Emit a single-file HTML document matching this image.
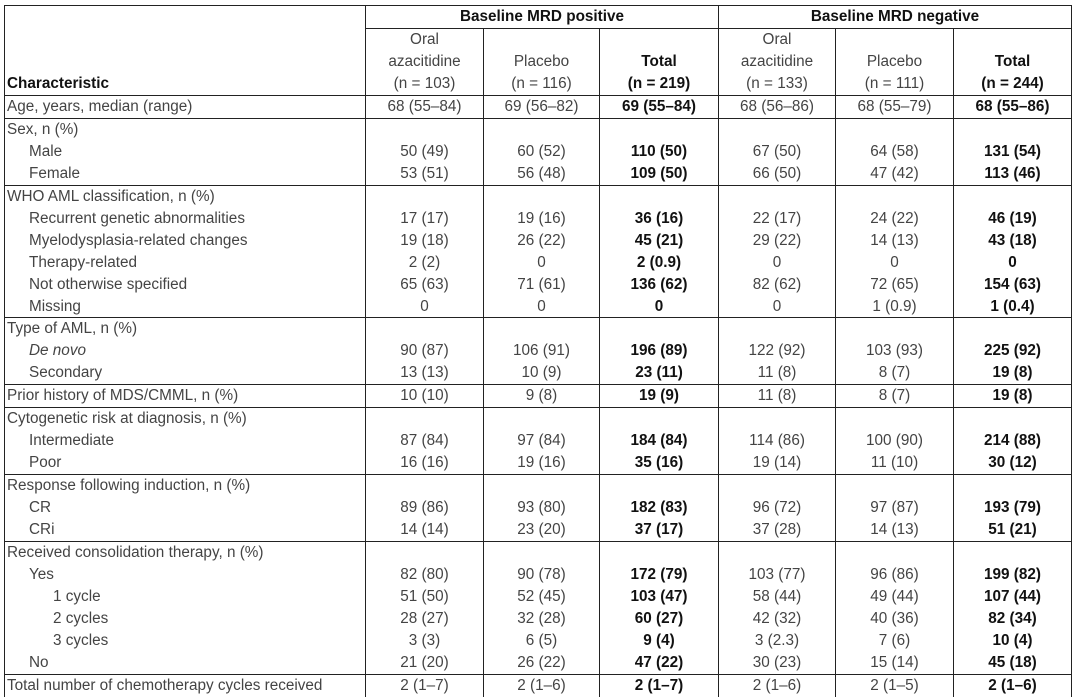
<!DOCTYPE html>
<html><head><meta charset="utf-8"><style>
body{margin:0;background:#fff;width:1080px;height:698px;overflow:hidden;font-family:"Liberation Sans",Arial,sans-serif;font-size:15.3px;color:#444}
table{position:absolute;left:4px;top:5px;border-collapse:collapse;table-layout:fixed}
td{border:1px solid #222;padding:0;vertical-align:bottom;text-align:center;line-height:21.95px;white-space:nowrap;overflow:hidden}
td.l{text-align:left;padding-left:2px}
b{color:#111}
.i1{padding-left:22px}.i2{padding-left:46px}
tr.last td{border-bottom:none}
</style></head><body>
<table>
<colgroup><col style="width:361px"><col style="width:118px"><col style="width:116px"><col style="width:119px"><col style="width:117px"><col style="width:118px"><col style="width:118px"></colgroup>
<tr style="height:21px"><td class="l" rowspan="2" style="vertical-align:bottom"><b>Characteristic</b></td><td colspan="3"><b>Baseline MRD positive</b></td><td colspan="3"><b>Baseline MRD negative</b></td></tr>
<tr style="height:67px"><td>Oral<br>azacitidine<br>(n = 103)</td><td>Placebo<br>(n = 116)</td><td><b>Total<br>(n = 219)</b></td><td>Oral<br>azacitidine<br>(n = 133)</td><td>Placebo<br>(n = 111)</td><td><b>Total<br>(n = 244)</b></td></tr>
<tr><td class="l">Age, years, median (range)</td><td>68 (55–84)</td><td>69 (56–82)</td><td><b>69 (55–84)</b></td><td>68 (56–86)</td><td>68 (55–79)</td><td><b>68 (55–86)</b></td></tr>
<tr><td class="l">Sex, n (%)<div class="i1">Male</div><div class="i1">Female</div></td><td>50 (49)<br>53 (51)</td><td>60 (52)<br>56 (48)</td><td><b>110 (50)<br>109 (50)</b></td><td>67 (50)<br>66 (50)</td><td>64 (58)<br>47 (42)</td><td><b>131 (54)<br>113 (46)</b></td></tr>
<tr><td class="l">WHO AML classification, n (%)<div class="i1">Recurrent genetic abnormalities</div><div class="i1">Myelodysplasia-related changes</div><div class="i1">Therapy-related</div><div class="i1">Not otherwise specified</div><div class="i1">Missing</div></td><td>17 (17)<br>19 (18)<br>2 (2)<br>65 (63)<br>0</td><td>19 (16)<br>26 (22)<br>0<br>71 (61)<br>0</td><td><b>36 (16)<br>45 (21)<br>2 (0.9)<br>136 (62)<br>0</b></td><td>22 (17)<br>29 (22)<br>0<br>82 (62)<br>0</td><td>24 (22)<br>14 (13)<br>0<br>72 (65)<br>1 (0.9)</td><td><b>46 (19)<br>43 (18)<br>0<br>154 (63)<br>1 (0.4)</b></td></tr>
<tr><td class="l">Type of AML, n (%)<div class="i1"><i>De novo</i></div><div class="i1">Secondary</div></td><td>90 (87)<br>13 (13)</td><td>106 (91)<br>10 (9)</td><td><b>196 (89)<br>23 (11)</b></td><td>122 (92)<br>11 (8)</td><td>103 (93)<br>8 (7)</td><td><b>225 (92)<br>19 (8)</b></td></tr>
<tr><td class="l">Prior history of MDS/CMML, n (%)</td><td>10 (10)</td><td>9 (8)</td><td><b>19 (9)</b></td><td>11 (8)</td><td>8 (7)</td><td><b>19 (8)</b></td></tr>
<tr><td class="l">Cytogenetic risk at diagnosis, n (%)<div class="i1">Intermediate</div><div class="i1">Poor</div></td><td>87 (84)<br>16 (16)</td><td>97 (84)<br>19 (16)</td><td><b>184 (84)<br>35 (16)</b></td><td>114 (86)<br>19 (14)</td><td>100 (90)<br>11 (10)</td><td><b>214 (88)<br>30 (12)</b></td></tr>
<tr><td class="l">Response following induction, n (%)<div class="i1">CR</div><div class="i1">CRi</div></td><td>89 (86)<br>14 (14)</td><td>93 (80)<br>23 (20)</td><td><b>182 (83)<br>37 (17)</b></td><td>96 (72)<br>37 (28)</td><td>97 (87)<br>14 (13)</td><td><b>193 (79)<br>51 (21)</b></td></tr>
<tr><td class="l">Received consolidation therapy, n (%)<div class="i1">Yes</div><div class="i2">1 cycle</div><div class="i2">2 cycles</div><div class="i2">3 cycles</div><div class="i1">No</div></td><td>82 (80)<br>51 (50)<br>28 (27)<br>3 (3)<br>21 (20)</td><td>90 (78)<br>52 (45)<br>32 (28)<br>6 (5)<br>26 (22)</td><td><b>172 (79)<br>103 (47)<br>60 (27)<br>9 (4)<br>47 (22)</b></td><td>103 (77)<br>58 (44)<br>42 (32)<br>3 (2.3)<br>30 (23)</td><td>96 (86)<br>49 (44)<br>40 (36)<br>7 (6)<br>15 (14)</td><td><b>199 (82)<br>107 (44)<br>82 (34)<br>10 (4)<br>45 (18)</b></td></tr>
<tr class="last"><td class="l">Total number of chemotherapy cycles received</td><td>2 (1–7)</td><td>2 (1–6)</td><td><b>2 (1–7)</b></td><td>2 (1–6)</td><td>2 (1–5)</td><td><b>2 (1–6)</b></td></tr>
</table>
</body></html>
